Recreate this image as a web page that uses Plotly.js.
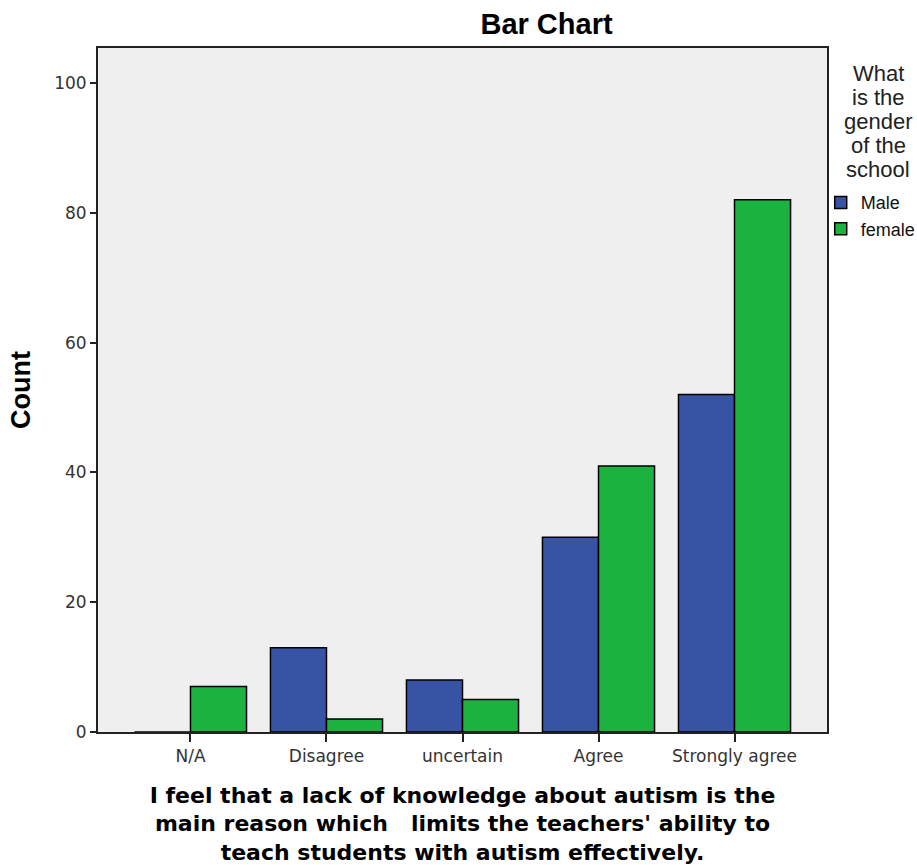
<!DOCTYPE html>
<html>
<head>
<meta charset="utf-8">
<script src="https://cdn.plot.ly/plotly-3.0.1.min.js"></script>
<style>html,body{margin:0;padding:0;background:#fff;}#chart{width:917px;height:865px;}</style>
</head>
<body>
<div id="chart"></div>
<script>
const categories = ["N/A", "Disagree", "uncertain", "Agree", "Strongly agree"];
const maleCounts = [0, 13, 8, 30, 52];
const femaleCounts = [7, 2, 5, 41, 82];
const seriesNames = ["Male", "female"];
const yTicks = [0, 20, 40, 60, 80, 100];
const legendTitleLines = ["What", "is the", "gender", "of the", "school"];

const traces = [
  {type: "bar", name: seriesNames[0], x: categories, y: maleCounts,
   marker: {color: "#3953a4", line: {color: "#000", width: 1.5}}},
  {type: "bar", name: seriesNames[1], x: categories, y: femaleCounts,
   marker: {color: "#1bb240", line: {color: "#000", width: 1.5}}}
];

const legendTitleAnnotations = legendTitleLines.map((t, i) => ({
  text: t, xref: "paper", yref: "paper",
  x: 1.07, y: (732 - (73 + i * 24)) / 684,
  xanchor: "center", yanchor: "middle", showarrow: false,
  font: {family: "Liberation Sans, Arial, sans-serif", size: 22, color: "#222"}
}));

const layout = {
  width: 917, height: 865,
  margin: {l: 98, r: 90, t: 48, b: 133, autoexpand: false},
  paper_bgcolor: "#fff",
  plot_bgcolor: "#efefef",
  barmode: "group",
  bargap: 0.176,
  bargroupgap: 0,
  font: {family: "Liberation Sans, Arial, sans-serif", color: "#111"},
  title: {text: "<b>Bar Chart</b>", x: 0.596, xanchor: "center", y: 0.972, yanchor: "middle",
          xref: "container", yref: "container",
          font: {size: 29, color: "#000"}},
  xaxis: {
    type: "category", range: [-0.68, 4.68],
    showline: true, linecolor: "#222", linewidth: 2, mirror: true,
    ticks: "outside", ticklen: 8, tickwidth: 2, tickcolor: "#222",
    tickfont: {family: "DejaVu Sans, sans-serif", size: 17, color: "#333"},
    showgrid: false, zeroline: false,
    title: {text: "<b>I feel that a lack of knowledge about autism is the<br>main reason which   limits the teachers' ability to<br>teach students with autism effectively.</b>",
            font: {family: "DejaVu Sans, sans-serif", size: 22, color: "#000"}, standoff: 31}
  },
  yaxis: {
    range: [0, 105.4], tickvals: yTicks,
    showline: true, linecolor: "#222", linewidth: 2, mirror: true,
    ticks: "outside", ticklen: 6, tickwidth: 2, tickcolor: "#222",
    tickfont: {family: "DejaVu Sans, sans-serif", size: 17, color: "#333"},
    showgrid: false, zeroline: false,
    title: {text: "<b>Count</b>", font: {size: 27, color: "#000"}, standoff: 16}
  },
  legend: {
    xref: "container", yref: "container",
    x: 0.895, xanchor: "left", y: 0.787, yanchor: "top",
    font: {size: 18, color: "#111"},
    itemwidth: 30, tracegroupgap: 0, bgcolor: "rgba(0,0,0,0)"
  },
  annotations: legendTitleAnnotations,
  showlegend: true
};

Plotly.newPlot("chart", traces, layout, {displayModeBar: false, staticPlot: true});
</script>
</body>
</html>
